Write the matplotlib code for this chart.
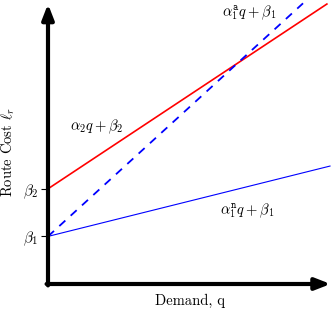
import numpy as np
import matplotlib as mpl
import matplotlib.pyplot as plt

mpl.rcParams['mathtext.fontset'] = 'cm'
mpl.rcParams['font.family'] = 'serif'
mpl.rcParams['font.serif'] = ['cmr10', 'DejaVu Serif']
mpl.rcParams['axes.formatter.use_mathtext'] = True

# intercepts and slopes
beta = [1.7, 3.4]
beta_labels = [r'$\beta_1$', r'$\beta_2$']
alpha_2 = 0.672
alpha_1a = 0.927
alpha_1n = 0.253
q_end = [9.82, 8.98, 9.93]  # red, dashed, thin blue

dpi = 100
fig = plt.figure(dpi=dpi, figsize=(332 / dpi, 309 / dpi))
ax = fig.add_axes([48 / 332, 25 / 309, 284 / 332, 280 / 309])
ax.set_xlim(0, 10)
ax.set_ylim(0, 10)
ax.patch.set_alpha(0)
for s in ax.spines.values():
    s.set_visible(False)

q = np.linspace(0, q_end[0], 2)
ax.plot(q, beta[1] + alpha_2 * q, color='red', lw=1.2, clip_on=False)
q = np.linspace(0, q_end[1], 2)
ax.plot(q, beta[0] + alpha_1a * q, color='blue', lw=1.3, ls=(0, (4.5, 4)), clip_on=False)
q = np.linspace(0, q_end[2], 2)
ax.plot(q, beta[0] + alpha_1n * q, color='blue', lw=0.8, clip_on=False)

# axes with arrow heads
arrow = dict(arrowstyle='-|>,head_length=0.9,head_width=0.35', lw=3, color='black',
             shrinkA=0, shrinkB=0)
ax.annotate('', xy=(0, 1.0), xytext=(0, -0.005), xycoords='axes fraction', arrowprops=arrow)
ax.annotate('', xy=(0.995, 0), xytext=(-0.005, 0), xycoords='axes fraction', arrowprops=arrow)

ax.set_xticks([])
ax.set_yticks(beta)
ax.set_yticklabels(beta_labels, fontsize=11)
ax.tick_params(axis='y', length=5, width=0.8, pad=2)

ax.set_xlabel('Demand, q', fontsize=10.5)
ax.xaxis.set_label_coords(0.5, -0.035)
ax.set_ylabel(r'Route Cost $\ell_r$', fontsize=10.5)
ax.yaxis.set_label_coords(-0.11, 0.47)

ax.text(1.7, 5.6, r'$\alpha_2q+\beta_2$', fontsize=10.5, ha='center', va='center')
ax.text(7.1, 9.7, r'$\alpha_1^{\mathtt{a}}q+\beta_1$', fontsize=10.5, ha='center', va='center')
ax.text(7.0, 2.6, r'$\alpha_1^{\mathtt{n}}q+\beta_1$', fontsize=10.5, ha='center', va='center')

plt.savefig('out.png', dpi=dpi)
